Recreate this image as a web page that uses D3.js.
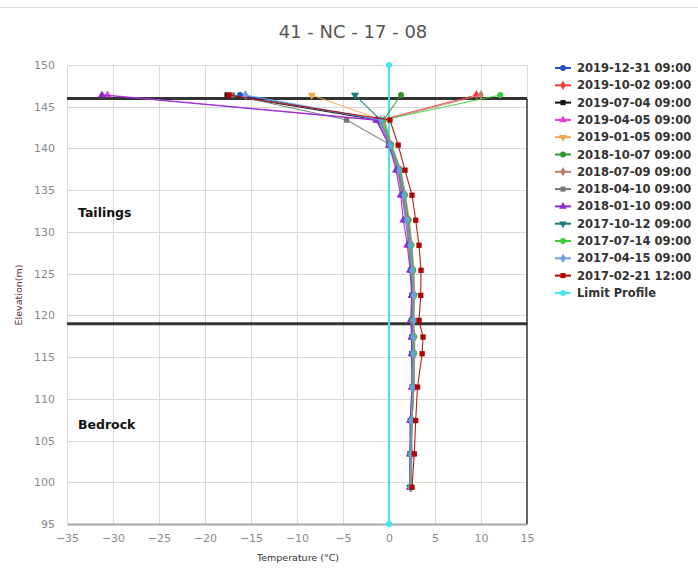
<!DOCTYPE html>
<html>
<head>
<meta charset="utf-8">
<script src="https://cdn.jsdelivr.net/npm/d3@7"></script>
<style>
  body { margin: 0; background: #fff; }
  svg text { font-family: "DejaVu Sans", Verdana, sans-serif; }
</style>
</head>
<body>
<svg id="chart" width="698" height="569"></svg>
<script>
// elevations (m) of the thermistor beads, surface first
var elevations = [146.4, 143.4, 140.4, 137.4, 134.4, 131.4, 128.4, 125.4, 122.4, 119.4, 117.4, 115.4, 111.4, 107.4, 103.4, 99.4];

var seriesNames = ["2019-12-31 09:00", "2019-10-02 09:00", "2019-07-04 09:00", "2019-04-05 09:00",
  "2019-01-05 09:00", "2018-10-07 09:00", "2018-07-09 09:00", "2018-04-10 09:00",
  "2018-01-10 09:00", "2017-10-12 09:00", "2017-07-14 09:00", "2017-04-15 09:00", "2017-02-21 12:00"];

// temperatures (C) per reading, same order as elevations
var t20191231 = [-16.2, -1.0, 0.1, 1.0, 1.5, 1.9, 2.2, 2.4, 2.5, 2.5, 2.6, 2.6, 2.6, 2.4, 2.4, 2.3];
var t20191002 = [9.5, -0.9, 0.2, 1.2, 1.7, 2.1, 2.4, 2.6, 2.7, 2.6, 2.7, 2.7, 2.7, 2.5, 2.4, 2.4];
var t20190704 = [-17.6, -1.3, 0.0, 1.0, 1.5, 1.9, 2.2, 2.4, 2.5, 2.5, 2.5, 2.5, 2.6, 2.4, 2.3, 2.3];
var t20190405 = [-30.6, -1.2, 0.0, 0.9, 1.4, 1.8, 2.1, 2.4, 2.5, 2.4, 2.5, 2.5, 2.5, 2.3, 2.3, 2.3];
var t20190105 = [-8.4, -0.8, 0.1, 1.0, 1.5, 1.9, 2.2, 2.4, 2.6, 2.5, 2.6, 2.6, 2.6, 2.4, 2.4, 2.3];
var t20181007 = [1.3, -0.6, 0.2, 1.2, 1.7, 2.1, 2.4, 2.6, 2.7, 2.6, 2.7, 2.7, 2.7, 2.5, 2.4, 2.4];
var t20180709 = [10.0, -0.5, 0.3, 1.3, 1.8, 2.2, 2.5, 2.7, 2.8, 2.7, 2.8, 2.8, 2.7, 2.5, 2.5, 2.4];
var t20180410 = [-17.0, -4.6, 0.2, 1.0, 1.5, 1.9, 2.2, 2.4, 2.5, 2.5, 2.5, 2.5, 2.6, 2.4, 2.3, 2.3];
var t20180110 = [-31.2, -1.4, 0.0, 0.76, 1.27, 1.56, 1.99, 2.28, 2.46, 2.35, 2.45, 2.45, 2.5, 2.3, 2.3, 2.3];
var t20171012 = [-3.7, -0.9, 0.1, 1.1, 1.6, 2.0, 2.3, 2.5, 2.7, 2.6, 2.6, 2.6, 2.6, 2.4, 2.4, 2.3];
var t20170714 = [12.1, -0.7, 0.2, 1.2, 1.7, 2.0, 2.4, 2.6, 2.7, 2.6, 2.7, 2.7, 2.6, 2.5, 2.4, 2.4];
var t20170415 = [-15.6, -0.9, 0.1, 1.1, 1.63, 1.9, 2.3, 2.5, 2.7, 2.7, 2.6, 2.6, 2.6, 2.4, 2.4, 2.3];
var t20170221 = [-17.4, 0.1, 1.0, 1.74, 2.5, 2.9, 3.26, 3.48, 3.45, 3.26, 3.7, 3.6, 3.1, 2.9, 2.75, 2.5];

var seriesTemps = [t20191231, t20191002, t20190704, t20190405, t20190105, t20181007, t20180709,
  t20180410, t20180110, t20171012, t20170714, t20170415, t20170221];

// limit profile and layer boundaries
var limitTemps = [0, 0];
var limitElev = [150, 95];
var boundaryElev = [146, 119];
var layerLabels = [{ name: "Tailings", elev: 131.8 }, { name: "Bedrock", elev: 106.4 }];

var xTicks = [-35, -30, -25, -20, -15, -10, -5, 0, 5, 10, 15];
var yTicks = [95, 100, 105, 110, 115, 120, 125, 130, 135, 140, 145, 150];

// styles
var colors = ["#2350c8", "#f23a3a", "#111111", "#e23ee2", "#f5a54a", "#2c9a2c", "#bf7f6c",
  "#777777", "#8c2bd0", "#1c7a78", "#38d038", "#6a9fe6", "#b00000"];
var shapes = [d3.symbolCircle, d3.symbolDiamond, d3.symbolSquare, d3.symbolTriangle, "down",
  d3.symbolCircle, d3.symbolDiamond, d3.symbolSquare, d3.symbolTriangle, "down",
  d3.symbolCircle, d3.symbolDiamond, d3.symbolSquare];
var limitColor = "#3fe6ea";

var svg = d3.select("#chart");
var m = { left: 67, right: 527, top: 65, bottom: 524 };

var x = d3.scaleLinear().domain([-35, 15]).range([m.left, m.right]);
var y = d3.scaleLinear().domain([95, 150]).range([m.bottom, m.top]);

// top rule
svg.append("line").attr("x1", 0).attr("x2", 698).attr("y1", 7.5).attr("y2", 7.5)
  .attr("stroke", "#dcdcdc");

// title
svg.append("text").attr("x", 353).attr("y", 38).attr("text-anchor", "middle")
  .attr("font-size", 18).attr("fill", "#555").text("41 - NC - 17 - 08");

// grid
var grid = svg.append("g");
grid.selectAll(".gx").data(xTicks).join("line")
  .attr("x1", d => Math.round(x(d)) + 0.5).attr("x2", d => Math.round(x(d)) + 0.5)
  .attr("y1", m.top).attr("y2", m.bottom)
  .attr("stroke", "#d8d8d8");
grid.selectAll(".gy").data(yTicks).join("line")
  .attr("x1", m.left).attr("x2", m.right)
  .attr("y1", d => Math.round(y(d)) + 0.5).attr("y2", d => Math.round(y(d)) + 0.5)
  .attr("stroke", "#d8d8d8");

// axes (labels only)
var xAxis = d3.axisBottom(x).tickValues(xTicks).tickSize(0).tickPadding(10).tickFormat(d3.format("d"));
var gx = svg.append("g").attr("transform", "translate(0," + m.bottom + ")").call(xAxis);
gx.select(".domain").attr("stroke", "#a8a8a8").attr("stroke-width", 2);
gx.selectAll("text").attr("fill", "#8a8a8a").attr("font-size", 11)
  .attr("font-family", "DejaVu Sans, sans-serif");

var yAxis = d3.axisLeft(y).tickValues(yTicks).tickSize(0).tickPadding(12).tickFormat(d3.format("d"));
var gy = svg.append("g").attr("transform", "translate(" + m.left + ",0)").call(yAxis);
gy.select(".domain").remove();
gy.selectAll("text").attr("fill", "#8a8a8a").attr("font-size", 11)
  .attr("font-family", "DejaVu Sans, sans-serif");

// axis titles
svg.append("text").attr("x", 298).attr("y", 561).attr("text-anchor", "middle")
  .attr("font-size", 9.5).attr("fill", "#333").text("Temperature (°C)");
svg.append("text").attr("transform", "translate(22,295) rotate(-90)").attr("text-anchor", "middle")
  .attr("font-size", 9.5).attr("fill", "#553333").text("Elevation(m)");

// right border below the tailings surface
svg.append("line").attr("x1", x(15)).attr("x2", x(15)).attr("y1", y(146)).attr("y2", m.bottom)
  .attr("stroke", "#666").attr("stroke-width", 2);

// boundary lines
svg.selectAll(".bnd").data(boundaryElev).join("line")
  .attr("x1", x(-35)).attr("x2", x(15))
  .attr("y1", d => y(d)).attr("y2", d => y(d))
  .attr("stroke", "#333").attr("stroke-width", 3);

// layer labels
svg.selectAll(".lay").data(layerLabels).join("text")
  .attr("x", 78).attr("y", d => y(d.elev))
  .attr("font-size", 12.5).attr("font-weight", "bold").attr("fill", "#111")
  .text(d => d.name);

function symPath(s, size) {
  if (s === "down") return d3.symbol(d3.symbolTriangle, size)();
  return d3.symbol(s, size)();
}
function symTransform(s, px, py) {
  return "translate(" + px + "," + py + ")" + (s === "down" ? " rotate(180)" : "");
}

var line = d3.line().x(d => x(d.t)).y(d => y(d.e));

// limit profile
var limitPts = limitTemps.map((t, i) => ({ t: t, e: limitElev[i] }));
svg.append("path").datum(limitPts).attr("d", line).attr("fill", "none")
  .attr("stroke", limitColor).attr("stroke-width", 2);
svg.selectAll(".lm").data(limitPts).join("circle")
  .attr("cx", d => x(d.t)).attr("cy", d => y(d.e)).attr("r", 3).attr("fill", limitColor);

// series
seriesNames.forEach(function(name, i) {
  var pts = seriesTemps[i].map((t, j) => ({ t: t, e: elevations[j] }));
  var g = svg.append("g");
  g.append("path").datum(pts).attr("d", line).attr("fill", "none")
    .attr("stroke", colors[i]).attr("stroke-width", 1.1).attr("stroke-opacity", 0.9);
  g.selectAll("path.mk").data(pts).join("path").attr("class", "mk")
    .attr("d", symPath(shapes[i], 28))
    .attr("transform", d => symTransform(shapes[i], x(d.t), y(d.e)))
    .attr("fill", colors[i]);
});

// legend
var legNames = seriesNames.concat(["Limit Profile"]);
var legColors = colors.concat([limitColor]);
var legShapes = shapes.concat([d3.symbolCircle]);
var leg = svg.append("g").selectAll("g").data(legNames).join("g")
  .attr("transform", (d, i) => "translate(555," + (68 + i * 17.3) + ")");
leg.append("line").attr("x1", 0).attr("x2", 16).attr("y1", 0).attr("y2", 0)
  .attr("stroke", (d, i) => legColors[i]).attr("stroke-width", 2);
leg.append("path").attr("d", (d, i) => symPath(legShapes[i], 26))
  .attr("transform", (d, i) => symTransform(legShapes[i], 8, 0))
  .attr("fill", (d, i) => legColors[i]);
leg.append("text").attr("x", 22).attr("y", 4).attr("font-size", 11.5).attr("font-weight", "bold")
  .attr("fill", "#333").text(d => d);
</script>
</body>
</html>
